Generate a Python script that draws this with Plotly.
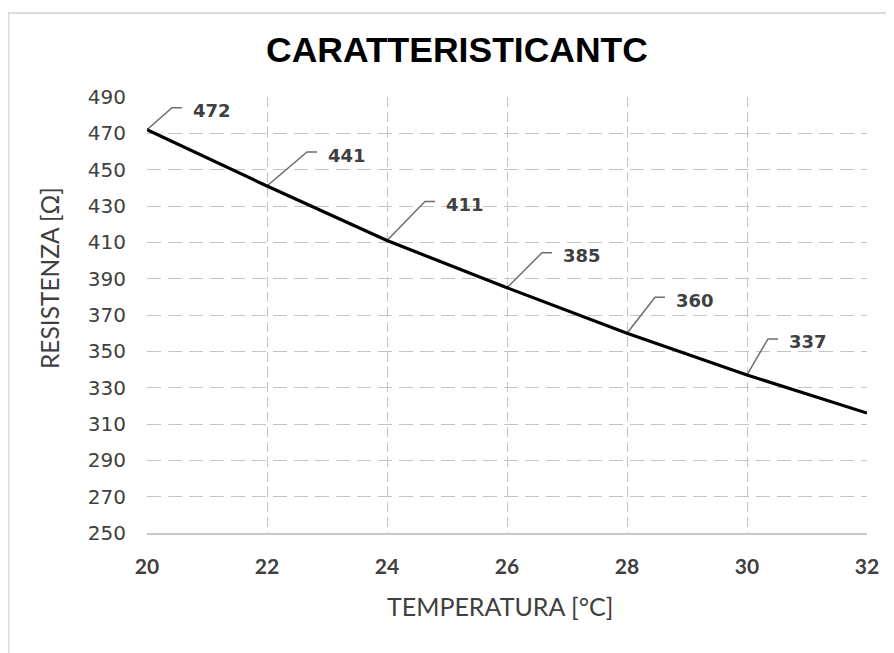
import plotly.graph_objects as go

# ---- data ----
temperature = [20, 22, 24, 26, 28, 30, 32]
resistance = [472, 441, 411, 385, 360, 337, 316]
labelled_temps = [20, 22, 24, 26, 28, 30]
labelled_values = [472, 441, 411, 385, 360, 337]
x_ticks = [20, 22, 24, 26, 28, 30, 32]
y_ticks = [250, 270, 290, 310, 330, 350, 370, 390, 410, 430, 450, 470, 490]

title_text = "CARATTERISTICANTC"
x_title = "TEMPERATURA [°C]"
y_title = "RESISTENZA [Ω]"

# ---- layout geometry (pixels, figure coordinates; page has 8px body margin) ----
W, H = 886, 645
ML, MR, MT, MB = 139, 27, 89, 120
PW = W - ML - MR
PH = H - MT - MB
XR = [20, 32]
YR = [250, 490]
px_per_x = PW / (XR[1] - XR[0])
px_per_y = PH / (YR[1] - YR[0])


def pxx(px):
    return (px - ML) / PW


def pxy(py):
    return (H - MB - py) / PH


# leader-line offsets in pixels (diagonal end), style only
leader_dx = [25, 40, 38, 35, 28, 21]
leader_dy = [-22, -34, -39, -35, -36, -36]
leader_h = 10
text_gap = 9

lx, ly = [], []
annotations = []
for t, v, dx, dy in zip(labelled_temps, labelled_values, leader_dx, leader_dy):
    ex = t + dx / px_per_x
    ey = v - dy / px_per_y
    hx = ex + leader_h / px_per_x
    lx += [t, ex, hx, None]
    ly += [v, ey, ey, None]
    annotations.append(dict(
        x=hx + text_gap / px_per_x, y=ey - 3 / px_per_y,
        xref="x", yref="y", text=str(v), showarrow=False,
        xanchor="left", yanchor="middle",
        font=dict(family="DejaVu Sans", size=18, color="#404040", weight="bold"),
    ))

fig = go.Figure()
fig.add_trace(go.Scatter(
    x=lx, y=ly, mode="lines", line=dict(color="#6e6e6e", width=1.5),
    hoverinfo="skip", showlegend=False, cliponaxis=False,
))
fig.add_trace(go.Scatter(
    x=temperature, y=resistance, mode="lines",
    line=dict(color="#000000", width=3.2), showlegend=False, cliponaxis=False,
))

annotations += [
    dict(x=pxx(449), y=pxy(42), xref="paper", yref="paper",
         text=title_text, showarrow=False, xanchor="center", yanchor="middle",
         font=dict(family="Liberation Sans", size=35.5, color="#000000", weight="bold")),
    dict(x=pxx(492), y=pxy(598), xref="paper", yref="paper",
         text=x_title, showarrow=False, xanchor="center", yanchor="middle",
         font=dict(family="Lato", size=25, color="#404040")),
    dict(x=pxx(41), y=pxy(270), xref="paper", yref="paper", textangle=-90,
         text=y_title, showarrow=False, xanchor="center", yanchor="middle",
         font=dict(family="Lato", size=24.5, color="#404040")),
]

fig.update_layout(
    width=W, height=H,
    margin=dict(l=ML, r=MR, t=MT, b=MB, autoexpand=False),
    paper_bgcolor="white", plot_bgcolor="white",
    annotations=annotations,
    shapes=[dict(
        type="rect", xref="paper", yref="paper", layer="below",
        x0=pxx(0.5), x1=pxx(905), y0=pxy(670), y1=pxy(5),
        line=dict(color="#dcdcdc", width=2), fillcolor="rgba(0,0,0,0)",
    )],
    xaxis=dict(
        range=XR, tickvals=x_ticks, ticktext=[str(v) for v in x_ticks],
        showgrid=True, gridcolor="#c4c4c4", griddash="10px,5px", gridwidth=1.2,
        showline=True, linecolor="#c8c8c8", linewidth=1.5, mirror=False,
        zeroline=False, ticks="", ticklabelstandoff=14,
        tickfont=dict(family="Lato", size=21, color="#404040", weight="bold"),
    ),
    yaxis=dict(
        range=YR, tickvals=y_ticks, ticktext=[str(v) for v in y_ticks],
        showgrid=True, gridcolor="#c4c4c4", griddash="14px,7px", gridwidth=1.2,
        showline=False, zeroline=False, ticks="", ticklabelstandoff=20,
        tickfont=dict(family="DejaVu Sans", size=20, color="#404040"),
    ),
)

fig.write_html("out.html")
